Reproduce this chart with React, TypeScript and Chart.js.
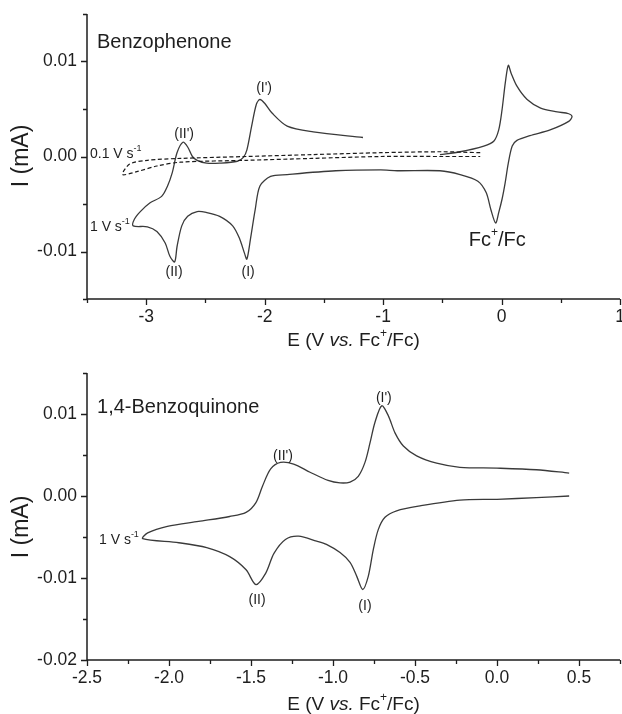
import React, { useEffect, useRef } from "react";
import { Chart, registerables } from "chart.js";

Chart.register(...registerables);

// ---------- Data: Benzophenone (top panel) ----------
// 1 V/s cyclic voltammogram (solid), in scan order
const bpFastE = [
  -0.52, -0.35, -0.15, -0.066, -0.024, 0.004, 0.032, 0.057, 0.08, 0.13, 0.216, 0.33, 0.47, 0.567,
  0.595, 0.567, 0.41, 0.24, 0.13, 0.09, 0.057, 0.03, 0.004, -0.024, -0.05, -0.09, -0.13, -0.2,
  -0.35, -0.52, -0.88, -1.02, -1.4, -1.81, -1.95, -2.04, -2.08, -2.12, -2.15, -2.17, -2.21, -2.27,
  -2.38, -2.49, -2.57, -2.65, -2.7, -2.74, -2.76, -2.8, -2.84, -2.91, -2.99, -3.11, -3.1, -3.05,
  -2.97, -2.87, -2.82, -2.78, -2.74, -2.69, -2.65, -2.61, -2.57, -2.49, -2.38, -2.23, -2.18, -2.15,
  -2.11, -2.07, -2.04, -2.0, -1.94, -1.81, -1.59, -1.17,
];
const bpFastI = [
  0.0002, 0.0005, 0.0011, 0.0016, 0.0028, 0.0049, 0.0078, 0.0096, 0.0088, 0.0074, 0.006, 0.0051,
  0.0047, 0.0045, 0.0042, 0.0037, 0.0028, 0.0022, 0.0017, 0.0011, -0.0007, -0.0028, -0.0045,
  -0.0059, -0.007, -0.0056, -0.0038, -0.0026, -0.0019, -0.0015, -0.0015, -0.0014, -0.0015,
  -0.0019, -0.0021, -0.0031, -0.0056, -0.0087, -0.0108, -0.0102, -0.0087, -0.0073, -0.0063,
  -0.0059, -0.0058, -0.0063, -0.0073, -0.0095, -0.0111, -0.0105, -0.0091, -0.0079, -0.0074,
  -0.0073, -0.0066, -0.0058, -0.0049, -0.0042, -0.0031, -0.0017, 0.0004, 0.0015, 0.001, 0.0,
  -0.0004, -0.0007, -0.0007, -0.0005, -0.0001, 0.0007, 0.0032, 0.0055, 0.006, 0.0056, 0.0046,
  0.0032, 0.0026, 0.002,
];
// 0.1 V/s cyclic voltammogram (dashed)
const bpSlowE = [
  -0.18, -0.5, -1.02, -1.6, -2.15, -2.71, -2.99, -3.14, -3.2, -3.08, -2.91, -2.71, -2.15, -1.6,
  -1.02, -0.5, -0.18,
];
const bpSlowI = [
  0.0004, 0.0005, 0.0004, 0.0002, 0.0, -0.0002, -0.0004, -0.0008, -0.0019, -0.0016, -0.001,
  -0.0006, -0.0004, -0.0002, 0.0, 0.0, 0.0,
];

// ---------- Data: 1,4-Benzoquinone (bottom panel) ----------
const bqE = [
  0.44, 0.24, 0.0, -0.226, -0.368, -0.49, -0.571, -0.622, -0.663, -0.703, -0.744, -0.774, -0.805,
  -0.846, -0.896, -0.957, -1.03, -1.14, -1.24, -1.32, -1.38, -1.43, -1.47, -1.53, -1.63,
  -1.82, -2.01, -2.13, -2.16, -1.94, -1.77, -1.63, -1.53, -1.47, -1.41, -1.36, -1.29, -1.21, -1.1,
  -1.04, -0.957, -0.896, -0.855, -0.819, -0.785, -0.754, -0.724, -0.683, -0.612, -0.469, -0.226,
  0.0, 0.24, 0.44,
];
const bqI = [
  0.0028, 0.0032, 0.0034, 0.0035, 0.004, 0.0049, 0.0061, 0.0077, 0.0098, 0.011, 0.009, 0.0065,
  0.0041, 0.0024, 0.0017, 0.0016, 0.0019, 0.0029, 0.0039, 0.0041, 0.0033, 0.0012, -0.0008,
  -0.002, -0.0025, -0.0031, -0.0037, -0.0045, -0.0052, -0.0057, -0.0063, -0.0074, -0.009,
  -0.0108, -0.0094, -0.007, -0.0053, -0.0049, -0.0055, -0.0059, -0.0069, -0.0081, -0.0098,
  -0.0114, -0.0098, -0.0065, -0.0041, -0.0026, -0.0018, -0.0012, -0.0005, -0.0004, -0.0002, 0.0,
];

// ---------- Axis definitions ----------
const topXRange = [-3.5, 1];
const topYRange = [-0.015, 0.015];
const botXRange = [-2.5, 0.75];
const botYRange = [-0.02, 0.015];

const xTitle = "E (V ~{vs.} Fc^{+}/Fc)";
const yTitle = "I (mA)";

const FONT = '"Liberation Sans", Arial, Helvetica, sans-serif';
const INK = "#1e1e1e";

type Ann = { text: string; x: number; y: number; size: number; align: "left" | "center" };

const topAnnotations: Ann[] = [
  { text: "Benzophenone", x: -3.416, y: 0.01205, size: 20, align: "left" },
  { text: "(I')", x: -2.005, y: 0.00721, size: 14, align: "center" },
  { text: "(II')", x: -2.68, y: 0.00237, size: 14, align: "center" },
  { text: "0.1 V s^{-1}", x: -3.475, y: 0.00026, size: 14, align: "left" },
  { text: "1 V s^{-1}", x: -3.475, y: -0.00742, size: 14, align: "left" },
  { text: "(II)", x: -2.765, y: -0.01216, size: 14, align: "center" },
  { text: "(I)", x: -2.14, y: -0.01216, size: 14, align: "center" },
  { text: "Fc^{+}/Fc", x: -0.037, y: -0.00879, size: 20, align: "center" },
];

const botAnnotations: Ann[] = [
  { text: "1,4-Benzoquinone", x: -2.439, y: 0.01085, size: 20, align: "left" },
  { text: "(I')", x: -0.69, y: 0.01195, size: 14, align: "center" },
  { text: "(II')", x: -1.305, y: 0.00488, size: 14, align: "center" },
  { text: "(II)", x: -1.463, y: -0.01268, size: 14, align: "center" },
  { text: "(I)", x: -0.805, y: -0.01341, size: 14, align: "center" },
  { text: "1 V s^{-1}", x: -2.427, y: -0.00537, size: 14, align: "left" },
];

// ---------- Rich text helper ----------
type Seg = { t: string; kind: "n" | "i" | "s" };
function parseRich(text: string): Seg[] {
  const out: Seg[] = [];
  const re = /(\^\{[^}]*\}|~\{[^}]*\})/g;
  let last = 0;
  let m: RegExpExecArray | null;
  while ((m = re.exec(text))) {
    if (m.index > last) out.push({ t: text.slice(last, m.index), kind: "n" });
    const tok = m[0];
    out.push({ t: tok.slice(2, -1), kind: tok[0] === "^" ? "s" : "i" });
    last = m.index + tok.length;
  }
  if (last < text.length) out.push({ t: text.slice(last), kind: "n" });
  return out;
}
function segFont(kind: Seg["kind"], size: number) {
  if (kind === "s") return `${Math.round(size * 0.62)}px ${FONT}`;
  if (kind === "i") return `italic ${size}px ${FONT}`;
  return `${size}px ${FONT}`;
}
function drawRich(
  ctx: CanvasRenderingContext2D,
  text: string,
  x: number,
  y: number,
  size: number,
  align: "left" | "center"
) {
  const segs = parseRich(text);
  let w = 0;
  for (const s of segs) {
    ctx.font = segFont(s.kind, size);
    w += ctx.measureText(s.t).width;
  }
  let cx = align === "center" ? x - w / 2 : x;
  ctx.textAlign = "left";
  ctx.textBaseline = "middle";
  ctx.fillStyle = INK;
  for (const s of segs) {
    ctx.font = segFont(s.kind, size);
    const dy = s.kind === "s" ? -size * 0.38 : 0;
    ctx.fillText(s.t, cx, y + dy);
    cx += ctx.measureText(s.t).width;
  }
}

type PanelCfg = {
  series: { E: number[]; I: number[]; dash: number[]; color: string; width: number }[];
  xRange: number[];
  yRange: number[];
  xStep: number;
  yStep: number;
  xLabelEvery: number;
  xDecimals: number;
  annotations: Ann[];
  canvasH: number;
  areaTop: number;
  areaBottom: number;
  xTitleOffset: number;
  yTitleCenter: number;
};

const isMultiple = (v: number, step: number) => Math.abs(v / step - Math.round(v / step)) < 1e-6;

function makeDecorPlugin(cfg: PanelCfg) {
  return {
    id: "decor",
    afterDraw(chart: any) {
      const ctx: CanvasRenderingContext2D = chart.ctx;
      const { left, right, top, bottom } = chart.chartArea;
      const xs = chart.scales.x;
      const ys = chart.scales.y;
      ctx.save();
      ctx.strokeStyle = INK;
      ctx.lineWidth = 1.5;
      ctx.beginPath();
      ctx.moveTo(left, top);
      ctx.lineTo(left, bottom);
      ctx.lineTo(right, bottom);
      ctx.stroke();
      ctx.lineWidth = 1.3;
      ctx.beginPath();
      for (const t of ys.ticks) {
        const p = Math.round(ys.getPixelForValue(t.value)) + 0.5;
        const len = t.label !== "" ? 6 : 4;
        ctx.moveTo(left, p);
        ctx.lineTo(left - len, p);
      }
      for (const t of xs.ticks) {
        const p = Math.round(xs.getPixelForValue(t.value)) + 0.5;
        const len = t.label !== "" ? 6 : 4;
        ctx.moveTo(p, bottom);
        ctx.lineTo(p, bottom + len);
      }
      ctx.stroke();

      for (const a of cfg.annotations) {
        drawRich(ctx, a.text, xs.getPixelForValue(a.x), ys.getPixelForValue(a.y), a.size, a.align);
      }
      drawRich(ctx, xTitle, (left + right) / 2, bottom + cfg.xTitleOffset, 19, "center");
      ctx.save();
      ctx.translate(22, cfg.yTitleCenter);
      ctx.rotate(-Math.PI / 2);
      drawRich(ctx, yTitle, 0, 0, 23, "center");
      ctx.restore();
      ctx.restore();
    },
  };
}

function Panel({ cfg, top }: { cfg: PanelCfg; top: number }) {
  const ref = useRef<HTMLCanvasElement>(null);
  useEffect(() => {
    const canvas = ref.current!;
    const chart = new Chart(canvas, {
      type: "scatter",
      data: {
        datasets: cfg.series.map((s) => ({
          data: s.E.map((e, i) => ({ x: e, y: s.I[i] })),
          showLine: true,
          pointRadius: 0,
          borderColor: s.color,
          borderWidth: s.width,
          borderDash: s.dash,
          tension: 0.3,
          fill: false,
        })),
      },
      options: {
        responsive: false,
        animation: false,
        devicePixelRatio: 1,
        events: [],
        layout: { padding: { left: 0, right: 2, top: cfg.areaTop, bottom: 0 } },
        plugins: { legend: { display: false }, tooltip: { enabled: false } },
        scales: {
          x: {
            type: "linear",
            min: cfg.xRange[0],
            max: cfg.xRange[1],
            grid: { display: false, drawTicks: false },
            border: { display: false },
            ticks: {
              stepSize: cfg.xStep,
              autoSkip: false,
              maxRotation: 0,
              padding: 8,
              color: INK,
              font: { family: FONT, size: 17.5 },
              callback: (v: any) =>
                isMultiple(Number(v), cfg.xLabelEvery) ? Number(v).toFixed(cfg.xDecimals) : "",
            },
            afterFit: (s: any) => {
              s.height = cfg.canvasH - cfg.areaBottom;
              s.paddingLeft = 0;
              s.paddingRight = 0;
            },
          },
          y: {
            type: "linear",
            min: cfg.yRange[0],
            max: cfg.yRange[1],
            grid: { display: false, drawTicks: false },
            border: { display: false },
            ticks: {
              stepSize: cfg.yStep,
              autoSkip: false,
              padding: 10,
              color: INK,
              font: { family: FONT, size: 17.5 },
              callback: (v: any) => (isMultiple(Number(v), 0.01) ? Number(v).toFixed(2) : ""),
            },
            afterFit: (s: any) => {
              s.width = 87;
              s.paddingTop = 0;
              s.paddingBottom = 0;
            },
          },
        },
      } as any,
      plugins: [makeDecorPlugin(cfg) as any],
    });
    return () => chart.destroy();
  }, []);
  return (
    <div style={{ position: "absolute", left: 0, top, width: 622, height: cfg.canvasH }}>
      <canvas ref={ref} width={622} height={cfg.canvasH} style={{ width: 622, height: cfg.canvasH, display: "block" }} />
    </div>
  );
}

const topCfg: PanelCfg = {
  series: [
    { E: bpSlowE, I: bpSlowI, dash: [4, 2.5], color: "#1a1a1a", width: 1.2 },
    { E: bpFastE, I: bpFastI, dash: [], color: "#3a3a3a", width: 1.3 },
  ],
  xRange: topXRange,
  yRange: topYRange,
  xStep: 0.5,
  yStep: 0.005,
  xLabelEvery: 1,
  xDecimals: 0,
  annotations: topAnnotations,
  canvasH: 355,
  areaTop: 14,
  areaBottom: 299,
  xTitleOffset: 42,
  yTitleCenter: 156,
};

const botCfg: PanelCfg = {
  series: [{ E: bqE, I: bqI, dash: [], color: "#3a3a3a", width: 1.3 }],
  xRange: botXRange,
  yRange: botYRange,
  xStep: 0.25,
  yStep: 0.005,
  xLabelEvery: 0.5,
  xDecimals: 1,
  annotations: botAnnotations,
  canvasH: 359,
  areaTop: 18,
  areaBottom: 305,
  xTitleOffset: 45,
  yTitleCenter: 172,
};

export default function App() {
  return (
    <div style={{ position: "absolute", left: 0, top: 0, width: 622, height: 714, background: "#fff" }}>
      <Panel cfg={topCfg} top={0} />
      <Panel cfg={botCfg} top={355} />
    </div>
  );
}
